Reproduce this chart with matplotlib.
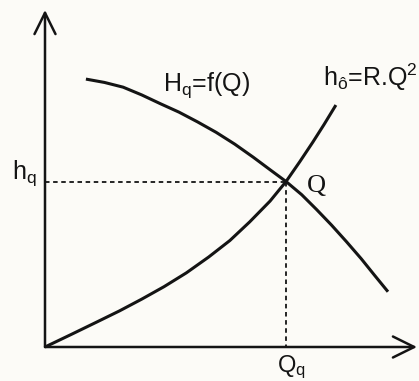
import matplotlib
matplotlib.use("Agg")
import matplotlib.pyplot as plt

# Pump characteristic H_q = f(Q)  (arbitrary units)
pump_Q = [1.10, 1.60, 2.10, 2.60, 3.10, 3.60, 4.10, 4.60, 5.10, 5.60, 6.05, 6.48,
          6.90, 7.30, 7.70, 8.10, 8.50, 8.85, 9.22]
pump_H = [7.95, 7.85, 7.71, 7.48, 7.22, 6.97, 6.68, 6.37, 6.02, 5.63, 5.26, 4.91,
          4.52, 4.08, 3.62, 3.13, 2.62, 2.14, 1.64]

# System (pipe) characteristic h_o = R.Q^2
sys_Q = [0.00, 0.70, 1.39, 2.00, 2.60, 3.20, 3.80, 4.40, 4.97, 5.50, 6.05, 6.48,
         6.85, 7.20, 7.50, 7.82]
sys_H = [0.00, 0.37, 0.74, 1.07, 1.42, 1.79, 2.20, 2.67, 3.16, 3.71, 4.33, 4.91,
         5.50, 6.08, 6.60, 7.18]

# Operating point
Q_q = 6.48
h_q = 4.91

# Axis extents
Q_max = 10.0
H_max = 10.0

plt.rcParams['mathtext.fontset'] = 'custom'
plt.rcParams['mathtext.rm'] = 'Liberation Sans'
plt.rcParams['mathtext.it'] = 'Liberation Sans:italic'
plt.rcParams['font.family'] = ['Liberation Sans', 'DejaVu Sans']

W, H = 419, 381
fig = plt.figure(figsize=(W / 100, H / 100), dpi=100, facecolor='#fcfbf7')
ax = fig.add_axes([45 / W, (H - 347) / H, (417 - 45) / W, (347 - 10) / H])
ax.set_xlim(0, Q_max)
ax.set_ylim(0, H_max)
ax.set_facecolor('none')
for s in ax.spines.values():
    s.set_visible(False)
ax.set_xticks([])
ax.set_yticks([])

ink = '#141414'
arrow = dict(arrowstyle='->,head_length=0.85,head_width=0.42', color=ink, lw=1.8,
             shrinkA=0, shrinkB=0, mutation_scale=18)
ax.annotate('', xy=(0, H_max), xytext=(0, 0), arrowprops=arrow, annotation_clip=False)
ax.annotate('', xy=(Q_max, 0), xytext=(0, 0), arrowprops=arrow, annotation_clip=False)

ax.plot(pump_Q, pump_H, color=ink, lw=2.2, solid_capstyle='butt',
        solid_joinstyle='round', clip_on=False)
ax.plot(sys_Q, sys_H, color=ink, lw=2.2, solid_capstyle='butt',
        solid_joinstyle='round', clip_on=False)

ax.plot([0, Q_q], [h_q, h_q], color=ink, lw=1.3, dashes=(2.5, 2.0))
ax.plot([Q_q, Q_q], [h_q, 0], color=ink, lw=1.3, dashes=(2.5, 2.0))

fs = 18
ax.text(-0.56, 5.15, r'h$_\mathregular{q}$', fontsize=fs, ha='center', va='center', color=ink)
ax.text(4.35, 7.78, r'H$_\mathregular{q}$=f(Q)', fontsize=fs, ha='center', va='center', color=ink)
ax.text(7.47, 8.0, r'h$_\mathregular{ô}$=R.Q$^\mathregular{2}$', fontsize=fs, ha='left',
        va='center', color=ink)
ax.text(7.31, 4.78, 'Q', fontsize=fs + 1, family='Liberation Serif', ha='center',
        va='center', color=ink)
ax.text(Q_q + 0.15, -0.6, r'Q$_\mathregular{q}$', fontsize=fs - 1, ha='center', va='center', color=ink)

fig.savefig('out.png', dpi=100, facecolor=fig.get_facecolor())
